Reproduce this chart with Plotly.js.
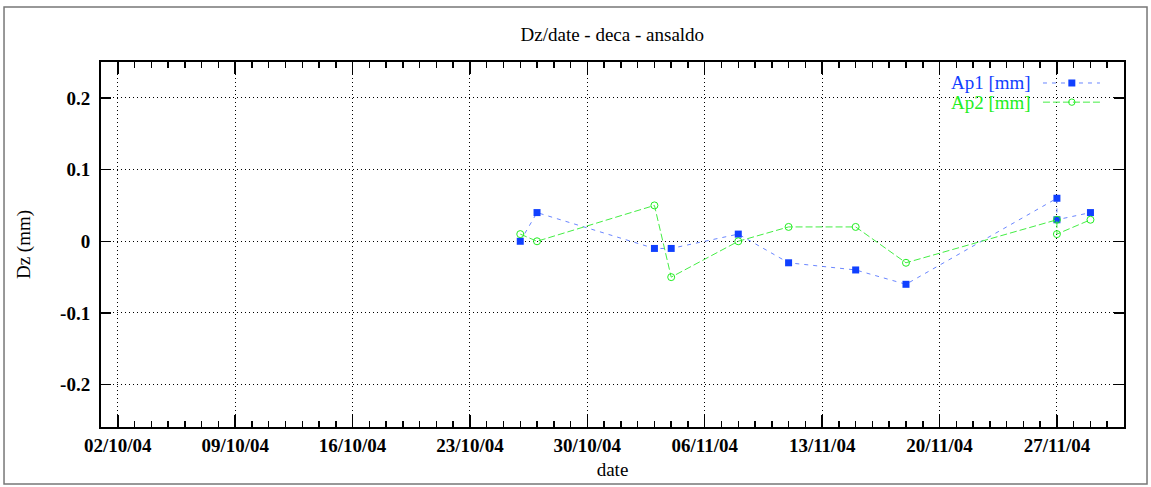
<!DOCTYPE html>
<html>
<head>
<meta charset="utf-8">
<script src="https://cdn.plot.ly/plotly-3.0.1.min.js"></script>
<style>
html,body{margin:0;padding:0;background:#fff;}
#chart{width:1151px;height:487px;}
</style>
</head>
<body>
<div id="chart"></div>
<script>
// ---- data ----
var dates = ['2004-10-26','2004-10-27','2004-11-03','2004-11-04','2004-11-08','2004-11-11','2004-11-15','2004-11-18','2004-11-27','2004-11-27','2004-11-29'];
var ap1 = [0, 0.04, -0.01, -0.01, 0.01, -0.03, -0.04, -0.06, 0.06, 0.03, 0.04];
var ap2 = [0.01, 0, 0.05, -0.05, 0, 0.02, 0.02, -0.03, 0.03, 0.01, 0.03];
var seriesNames = ['Ap1 [mm]', 'Ap2 [mm]'];
var titleText = 'Dz/date - deca - ansaldo';
var xTitle = 'date';
var yTitle = 'Dz (mm)';
var xRange = ['2004-10-01', '2004-12-01'];
var yRange = [-0.259, 0.25];
var yTicks = [-0.2, -0.1, 0, 0.1, 0.2];
var yTickText = ['-0.2', '-0.1', '0', '0.1', '0.2'];

var blue = '#1040ff', blueLine = '#6a86ff';
var green = '#22ee22', greenLine = '#44ee44';
var serif = 'Liberation Serif, Times New Roman, serif';

var traces = [
  {x: dates, y: ap1, type: 'scatter', mode: 'lines+markers', name: seriesNames[0],
   line: {color: blueLine, width: 1, dash: '4px,5px'},
   marker: {symbol: 'square', size: 7, color: blue}, hoverinfo: 'skip'},
  {x: dates, y: ap2, type: 'scatter', mode: 'lines+markers', name: seriesNames[1],
   line: {color: greenLine, width: 1, dash: '7px,3px'},
   marker: {symbol: 'circle-open', size: 7, color: green, line: {width: 1, color: green}}, hoverinfo: 'skip'}
];

// manual gnuplot-style legend (text left, sample right)
var legY = [0.9425, 0.890];
var legTextX = 0.911, legLine0 = 0.9208, legLine1 = 0.9765, legMark = 0.949;
var annotations = [];
var shapes = [
  {type: 'rect', xref: 'paper', yref: 'paper', x0: -0.0948, x1: 1.0225, y0: -0.156, y1: 1.1507,
   line: {color: '#777', width: 1.5}, layer: 'below'}
];
var cols = [blue, green], lcols = [blueLine, greenLine], dashes = ['4px,5px', '7px,3px'];
for (var i = 0; i < 2; i++) {
  annotations.push({xref: 'paper', yref: 'paper', x: legTextX, y: legY[i], xanchor: 'right', yanchor: 'middle',
    text: seriesNames[i], showarrow: false, font: {family: serif, size: 19, color: cols[i]}});
  shapes.push({type: 'line', xref: 'paper', yref: 'paper', x0: legLine0, x1: legLine1, y0: legY[i], y1: legY[i],
    line: {color: lcols[i], width: 1, dash: dashes[i]}});
}
shapes.push({type: 'rect', xref: 'paper', yref: 'paper', xsizemode: 'pixel', ysizemode: 'pixel',
  xanchor: legMark, yanchor: legY[0], x0: -3.5, x1: 3.5, y0: -3.5, y1: 3.5, fillcolor: blue, line: {width: 0}});
shapes.push({type: 'circle', xref: 'paper', yref: 'paper', xsizemode: 'pixel', ysizemode: 'pixel',
  xanchor: legMark, yanchor: legY[1], x0: -3.2, x1: 3.2, y0: -3.2, y1: 3.2, fillcolor: 'rgba(0,0,0,0)', line: {width: 1, color: green}});

var layout = {
  width: 1151, height: 487,
  margin: {l: 101, r: 27, t: 62, b: 60},
  paper_bgcolor: '#fff', plot_bgcolor: '#fff',
  showlegend: false,
  title: {text: titleText, x: 0.532, xanchor: 'center', y: 0.93, yanchor: 'middle',
    font: {family: serif, size: 19, color: '#000'}},
  xaxis: {
    type: 'date', range: xRange,
    tick0: '2004-10-02', dtick: 7 * 86400000, tickformat: '%d/%m/%y',
    ticks: 'inside', ticklen: 12, tickwidth: 1.5, tickcolor: '#000',
    minor: {dtick: 86400000, ticks: 'inside', ticklen: 6, tickwidth: 1.5, tickcolor: '#000', showgrid: false},
    showline: true, linecolor: '#000', linewidth: 2, mirror: 'ticks',
    showgrid: true, gridcolor: '#000', gridwidth: 1, griddash: '1px,3px',
    zeroline: false,
    tickfont: {family: serif, size: 19, color: '#000', weight: 'bold'},
    title: {text: xTitle, font: {family: serif, size: 19, color: '#000'}, standoff: 8}
  },
  yaxis: {
    range: yRange, tickvals: yTicks, ticktext: yTickText,
    ticks: 'inside', ticklen: 10, tickwidth: 1.5, tickcolor: '#000',
    showline: true, linecolor: '#000', linewidth: 2, mirror: 'ticks',
    showgrid: true, gridcolor: '#000', gridwidth: 1, griddash: '1px,3px',
    zeroline: false, ticklabelstandoff: 5,
    tickfont: {family: serif, size: 19, color: '#000', weight: 'bold'},
    title: {text: yTitle, font: {family: serif, size: 19, color: '#000'}, standoff: 24}
  },
  annotations: annotations,
  shapes: shapes
};

Plotly.newPlot('chart', traces, layout, {staticPlot: true, displayModeBar: false});
</script>
</body>
</html>
